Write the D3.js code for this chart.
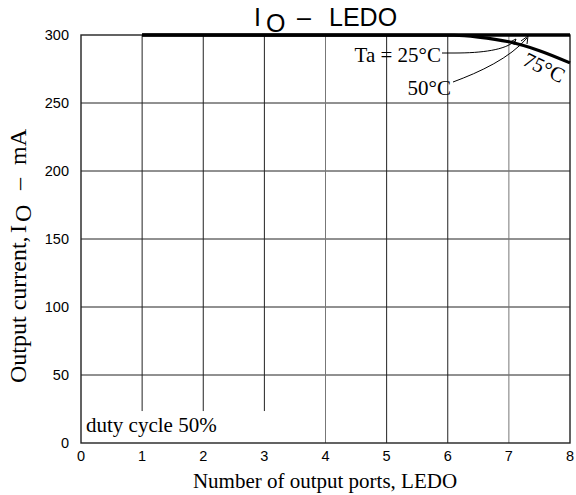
<!DOCTYPE html>
<html><head><meta charset="utf-8">
<script src="https://cdn.jsdelivr.net/npm/d3@7"></script>
<style>body{margin:0;background:#fff}svg{display:block}</style>
</head><body>
<svg id="c" width="576" height="495"></svg>
<script>
const xTicks = [0,1,2,3,4,5,6,7,8];
const yTicks = [0,50,100,150,200,250,300];
const ports25 = [1,8];
const io25 = [300,300];
const ports50 = [1,8];
const io50 = [300,300];
const ports75 = [1,6.1,6.5,7,7.5,8];
const io75 = [300,299.8,298.5,295,288.5,279.5];
const shortGrid = [1,2,3];
const fullGrid = [4,5,6,7];

const svg = d3.select("#c");
const x = d3.scaleLinear().domain([0,8]).range([81,570]);
const y = d3.scaleLinear().domain([0,300]).range([443,35]);
const serif = "Liberation Serif, Times New Roman, serif";
const sans = "Liberation Sans, Arial, sans-serif";

// horizontal grid
svg.append("g").selectAll("line").data(yTicks.filter(d=>d>0 && d<300)).join("line")
  .attr("x1",x(0)).attr("x2",x(8)).attr("y1",d=>y(d)).attr("y2",d=>y(d))
  .attr("stroke","#222").attr("stroke-width",1);
// vertical grid
svg.append("g").selectAll("line").data(shortGrid).join("line")
  .attr("x1",d=>x(d)).attr("x2",d=>x(d)).attr("y1",y(300)).attr("y2",y(23.5))
  .attr("stroke","#222").attr("stroke-width",1);
svg.append("g").selectAll("line").data(fullGrid).join("line")
  .attr("x1",d=>x(d)).attr("x2",d=>x(d)).attr("y1",y(300)).attr("y2",y(0))
  .attr("stroke",d=>(d===4||d===7)?"#777":"#222").attr("stroke-width",1);
// frame
svg.append("rect").attr("x",x(0)).attr("y",y(300)).attr("width",x(8)-x(0)).attr("height",y(0)-y(300))
  .attr("fill","none").attr("stroke","#222").attr("stroke-width",1.4);

// tick labels
svg.append("g").selectAll("text").data(xTicks).join("text")
  .attr("x",d=>x(d)).attr("y",461).attr("text-anchor","middle")
  .attr("font-family",sans).attr("font-size",14.5).text(d=>d);
svg.append("g").selectAll("text").data(yTicks).join("text")
  .attr("x",69).attr("y",d=>y(d)+5).attr("text-anchor","end")
  .attr("font-family",sans).attr("font-size",14.5).text(d=>d);

// curves
const line = d3.line().x(d=>x(d[0])).y(d=>y(d[1])).curve(d3.curveMonotoneX);
[[ports25,io25],[ports50,io50],[ports75,io75]].forEach(([p,v])=>{
  svg.append("path").datum(p.map((d,i)=>[d,v[i]])).attr("d",line)
    .attr("fill","none").attr("stroke","#000").attr("stroke-width",3.2);
});

// title
const t = svg.append("text").attr("y",26).attr("font-family",sans).attr("font-size",25);
t.append("tspan").attr("x",254).text("I");
t.append("tspan").attr("x",266).attr("dy",6).text("O");
t.append("tspan").attr("x",297).attr("dy",-6).text("\u2013");
t.append("tspan").attr("x",329).text("LEDO");

// axis labels
svg.append("text").attr("x",325).attr("y",488).attr("text-anchor","middle")
  .attr("font-family",serif).attr("font-size",21).text("Number of output ports, LEDO");
const yl = svg.append("text").attr("transform","translate(26,0) rotate(-90)")
  .attr("font-family",serif).attr("font-size",24);
yl.append("tspan").attr("x",-383).text("Output current,");
yl.append("tspan").attr("x",-233).text("I");
yl.append("tspan").attr("x",-222).attr("dy",5).text("O");
yl.append("tspan").attr("x",-190).attr("dy",-5).text("\u2013");
yl.append("tspan").attr("x",-165).text("mA");

// annotations
svg.append("text").attr("x",86).attr("y",432).attr("font-family",serif).attr("font-size",21).text("duty cycle 50%");
svg.append("text").attr("x",441).attr("y",62).attr("text-anchor","end").attr("font-family",serif).attr("font-size",21).text("Ta = 25\u00b0C");
svg.append("text").attr("x",451).attr("y",95).attr("text-anchor","end").attr("font-family",serif).attr("font-size",21).text("50\u00b0C");
svg.append("text").attr("transform","translate(541,74) rotate(26)").attr("text-anchor","middle")
  .attr("font-family",serif).attr("font-size",21).text("75\u00b0C");

// leader lines
const lead = svg.append("g").attr("fill","none").attr("stroke","#000").attr("stroke-width",1);
lead.append("path").attr("d","M442,53 L455,53 C482,53 505,50 515,41");
lead.append("path").attr("d","M510,42 L516,39 L514,45");
lead.append("path").attr("d","M453,82 C480,72 510,58 527,38");
lead.append("path").attr("d","M521,41 L528,36 L527,44");
</script>
</body></html>
